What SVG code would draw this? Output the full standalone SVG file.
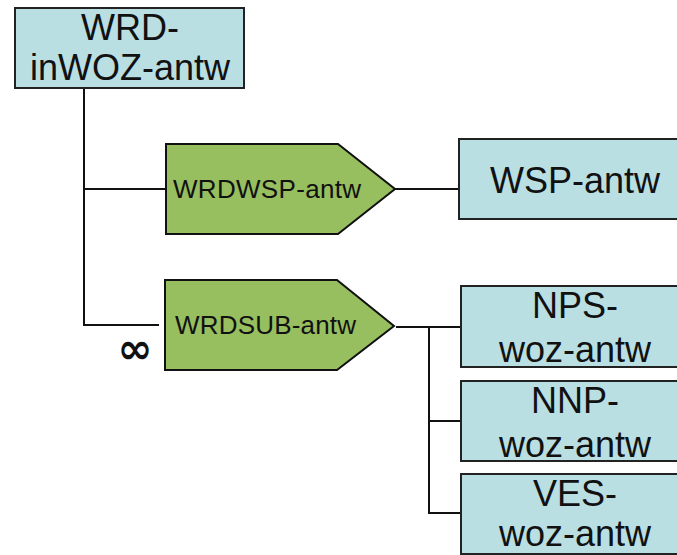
<svg xmlns="http://www.w3.org/2000/svg" width="677" height="555" viewBox="0 0 677 555">
<style>
.box{fill:#b9dfe3;stroke:#222;stroke-width:2}
.proc{fill:#97bf5f;stroke:#111;stroke-width:2}
.big{font-family:"Liberation Sans",Arial,sans-serif;font-size:36px;fill:#111;text-anchor:middle}
.mid{font-family:"Liberation Sans",Arial,sans-serif;font-size:26px;fill:#111}
.ln{fill:none;stroke:#111;stroke-width:2}
</style>
<rect width="677" height="555" fill="#fff"/>
<g id="connectors">
<polyline class="ln" points="84,88 84,189 166,189"/>
<polyline class="ln" points="84,189 84,325 159,325"/>
<line class="ln" x1="389" y1="189" x2="462" y2="189"/>
<polyline class="ln" points="389,185 395,189 389,193" style="stroke-width:1.5"/>
<line class="ln" x1="396" y1="327" x2="461" y2="327"/>
<polyline class="ln" points="429,327 429,513 461,513"/>
<line class="ln" x1="429" y1="421" x2="461" y2="421"/>
<text x="135" y="363" style="font-family:'DejaVu Sans',sans-serif;font-size:42px;font-weight:bold;text-anchor:middle;fill:#111">∞</text>
</g>
<g id="WRD-inWOZ-antw">
<rect class="box" x="15" y="8" width="229" height="80"/>
<text class="big" x="130" y="40">WRD-</text>
<text class="big" x="130" y="80">inWOZ-antw</text>
</g>
<g id="WRDWSP-antw">
<polygon class="proc" points="166,144 338,144 395,189 338,234 166,234"/>
<text class="mid" x="173" y="198" textLength="188">WRDWSP-antw</text>
</g>
<g id="WSP-antw">
<rect class="box" x="459" y="139" width="235" height="80"/>
<text class="big" x="575" y="193">WSP-antw</text>
</g>
<g id="WRDSUB-antw">
<polygon class="proc" points="165,280 337,280 394,326 337,370 165,370"/>
<text class="mid" x="175" y="334" textLength="181">WRDSUB-antw</text>
</g>
<g id="NPS-woz-antw">
<rect class="box" x="461" y="286" width="233" height="81"/>
<text class="big" x="575" y="318">NPS-</text>
<text class="big" x="575" y="362">woz-antw</text>
</g>
<g id="NNP-woz-antw">
<rect class="box" x="461" y="381" width="233" height="80"/>
<text class="big" x="575" y="413">NNP-</text>
<text class="big" x="575" y="457">woz-antw</text>
</g>
<g id="VES-woz-antw">
<rect class="box" x="461" y="474" width="233" height="80"/>
<text class="big" x="575" y="506">VES-</text>
<text class="big" x="575" y="546">woz-antw</text>
</g>
</svg>
